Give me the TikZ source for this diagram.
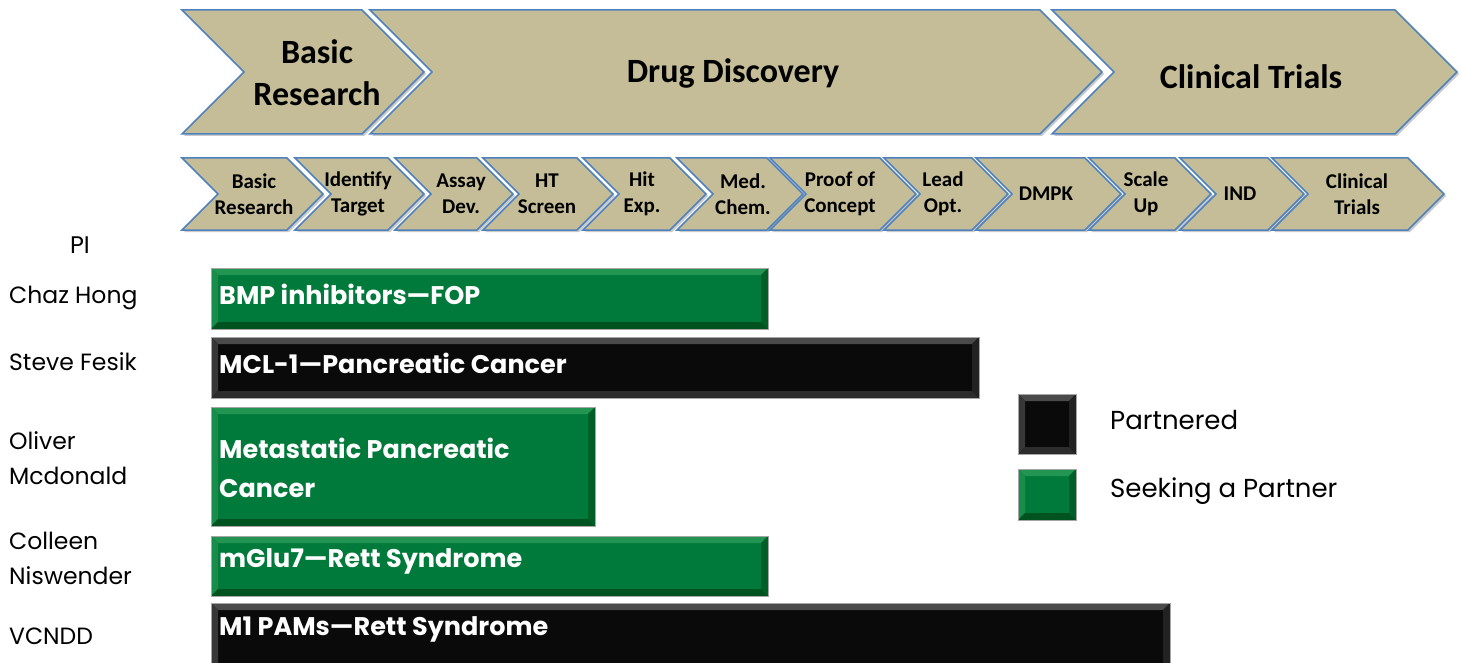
\documentclass[tikz,border=0pt]{standalone}
\usepackage{fontspec}
\setmainfont{Poppins}
\newfontfamily\calibri{Carlito}
\usetikzlibrary{shadows}

\definecolor{chevtan}{HTML}{C4BD97}
\definecolor{chevblue}{HTML}{4F81BD}
\definecolor{bargreen}{HTML}{007A3A}
\definecolor{greenlight}{HTML}{239552}
\definecolor{greendark}{HTML}{00521F}
\definecolor{barblack}{HTML}{0A0A0A}
\definecolor{blacklight}{HTML}{4A4A4A}
\definecolor{blackdark}{HTML}{2C2C2C}

% chevron: left, corner, top, bottom
\newcommand{\chevron}[4]{%
  \draw[chev] (#1,#3) -- (#2,#3) -- ({#2+(#4-#3)/2},{(#3+#4)/2}) -- (#2,#4)
    -- (#1,#4) -- ({#1+(#4-#3)/2},{(#3+#4)/2}) -- cycle;}

% bevelled bar: x1, y1, x2, y2, base, light, dark
\newcommand{\bevelbox}[7]{%
  \fill[#5] (#1,#2) rectangle (#3,#4);
  \fill[#6] (#1,#2) -- (#3,#2) -- ({#3-7},{#2+7}) -- ({#1+7},{#2+7}) -- cycle;
  \fill[#6!70!#5] (#1,#2) -- ({#1+7},{#2+7}) -- ({#1+7},{#4-7}) -- (#1,#4) -- cycle;
  \fill[#7] (#1,#4) -- ({#1+7},{#4-7}) -- ({#3-7},{#4-7}) -- (#3,#4) -- cycle;
  \fill[#7!70!#5] (#3,#2) -- (#3,#4) -- ({#3-7},{#4-7}) -- ({#3-7},{#2+7}) -- cycle;
  \draw[gray!70, line width=0.8pt] (#1,#2) rectangle (#3,#4);}

\begin{document}
\begin{tikzpicture}[x=1pt, y=-1pt,
    chev/.style={fill=chevtan, draw=chevblue, line width=1.5pt, line join=miter,
      drop shadow={shadow xshift=2pt, shadow yshift=-2pt, opacity=0.35, fill=black!60}},
    bigtxt/.style={font=\calibri\bfseries\fontsize{34}{42}\selectfont, align=center},
    smalltxt/.style={font=\calibri\bfseries\fontsize{21}{26}\selectfont, align=center},
    pilabel/.style={anchor=west, align=left, inner sep=0pt, font=\fontsize{23.5}{35}\selectfont},
    bartxt/.style={anchor=west, align=left, inner sep=0pt, text=white, font=\bfseries\fontsize{25.5}{39}\selectfont},
    legtxt/.style={anchor=west, inner sep=0pt, font=\fontsize{26}{30}\selectfont}]

    \path[use as bounding box] (0,0) rectangle (1461,663);
    \clip (0,0) rectangle (1461,663);

    % Phases
    \chevron{182}{362}{10}{134}
    \node[bigtxt] (basic) at (317,73) {Basic\\Research};
    \chevron{370}{1040}{10}{134}
    \node[bigtxt] (discovery) at (733,73) {Drug Discovery};
    \chevron{1052}{1395}{10}{134}
    \node[bigtxt] (clinical) at (1251,77) {Clinical Trials};

    % Steps
    \foreach \l/\c/\t/\lab [count=\i] in {182/287/254/{Basic\\Research},
        295/388/358/{Identify\\Target}, 395/477/461/{Assay\\Dev.},
        483/577/547/{HT\\Screen}, 583/670/642/{Hit\\Exp.},
        677/767/743/{Med.\\Chem.}, 770/880/840/{Proof of\\Concept},
        884/972/943/{Lead\\Opt.}, 976/1085/1046/{DMPK},
        1089/1175/1146/{Scale\\Up}, 1180/1268/1240/{IND},
        1272/1408/1357/{Clinical\\Trials}} {
      \chevron{\l}{\c}{158}{230}
      \node[smalltxt] (phase\i) at (\t,194) {\lab};
    }

    % PIs
    \node[font=\fontsize{24}{28}\selectfont] (pi) at (80,245) {PI};
    \node[pilabel] (hong) at (9,298) {Chaz Hong};
    \node[pilabel] (fesik) at (9,362) {Steve Fesik};
    \node[pilabel] (mcdonald) at (9,458) {Oliver\\Mcdonald};
    \node[pilabel] (niswender) at (9,558) {Colleen\\Niswender};
    \node[pilabel] (vcndd) at (9,636) {VCNDD};

    % Projects
    \bevelbox{211}{268}{768}{329}{bargreen}{greenlight}{greendark}
    \node[bartxt] (bmp) at (219,294) {BMP inhibitors—FOP};
    \bevelbox{211}{337}{979}{398}{barblack}{blacklight}{blackdark}
    \node[bartxt] (mcl) at (219,363) {MCL-1—Pancreatic Cancer};
    \bevelbox{211}{407}{595}{526}{bargreen}{greenlight}{greendark}
    \node[bartxt] (meta) at (219,468) {Metastatic Pancreatic\\Cancer};
    \bevelbox{211}{536}{768}{596}{bargreen}{greenlight}{greendark}
    \node[bartxt] (mglu) at (219,561) {mGlu7—Rett Syndrome};
    \bevelbox{211}{603}{1170}{672}{barblack}{blacklight}{blackdark}
    \node[bartxt] (mpam) at (219,629) {M1 PAMs—Rett Syndrome};

    % Legend
    \bevelbox{1018}{394}{1076}{454}{barblack}{blacklight}{blackdark}
    \node[legtxt] (partnered) at (1110,420) {Partnered};
    \bevelbox{1018}{469}{1076}{520}{bargreen}{greenlight}{greendark}
    \node[legtxt] (seeking) at (1110,491) {Seeking a Partner};
\end{tikzpicture}
\end{document}
